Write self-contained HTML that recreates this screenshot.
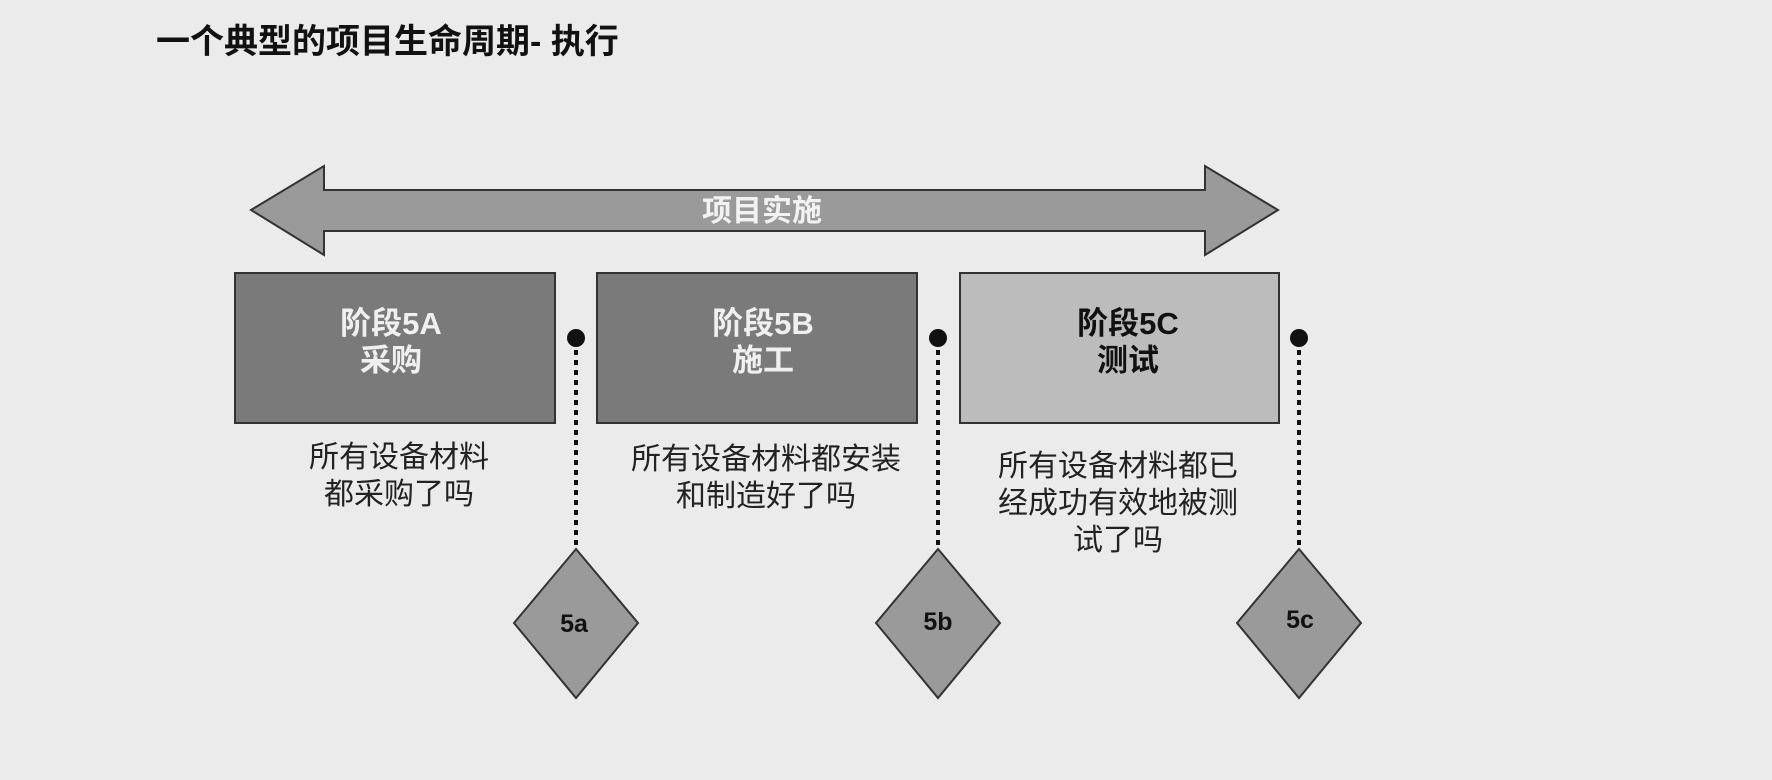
<!DOCTYPE html>
<html><head><meta charset="utf-8"><style>
html,body{margin:0;padding:0;background:#ebebeb;}
body{width:1772px;height:780px;overflow:hidden;position:relative;font-family:"Liberation Sans","Noto Sans CJK SC",sans-serif;}
.t{position:absolute;white-space:nowrap;}
</style></head><body>
<div class="t" style="left:156px;top:20px;font-size:34px;font-weight:bold;color:#111;line-height:44px;">一个典型的项目生命周期- 执行</div>
<svg width="1772" height="780" style="position:absolute;left:0;top:0">
<polygon points="251,210 324,166 324,190 1205,190 1205,166 1278,210 1205,255 1205,231 324,231 324,255" fill="#9a9a9a" stroke="#333" stroke-width="2"/>
<text x="762" y="221" text-anchor="middle" font-size="30" font-weight="bold" fill="#f2f2f2" font-family="Liberation Sans, Noto Sans CJK SC, sans-serif">项目实施</text>
<rect x="235" y="273" width="320" height="150" fill="#7a7a7a" stroke="#333" stroke-width="2"/>
<rect x="597" y="273" width="320" height="150" fill="#7a7a7a" stroke="#333" stroke-width="2"/>
<rect x="960" y="273" width="319" height="150" fill="#bcbcbc" stroke="#333" stroke-width="2"/>
<g font-family="Liberation Sans, Noto Sans CJK SC, sans-serif" font-size="31" font-weight="bold" text-anchor="middle">
<text x="391" y="334" fill="#f0f0f0">阶段5A</text><text x="391" y="371" fill="#f0f0f0">采购</text>
<text x="763" y="334" fill="#f0f0f0">阶段5B</text><text x="763" y="371" fill="#f0f0f0">施工</text>
<text x="1128" y="334" fill="#111">阶段5C</text><text x="1128" y="371" fill="#111">测试</text>
</g>
<g font-family="Liberation Sans, Noto Sans CJK SC, sans-serif" font-size="30" text-anchor="middle" fill="#222">
<text x="399" y="467">所有设备材料</text><text x="399" y="504">都采购了吗</text>
<text x="766" y="469">所有设备材料都安装</text><text x="766" y="506">和制造好了吗</text>
<text x="1118" y="476">所有设备材料都已</text><text x="1118" y="513">经成功有效地被测</text><text x="1118" y="550">试了吗</text>
</g>
<g stroke="#111" stroke-width="4" stroke-dasharray="5,5">
<line x1="576" y1="340" x2="576" y2="548"/><line x1="938" y1="340" x2="938" y2="548"/><line x1="1299" y1="340" x2="1299" y2="548"/>
</g>
<g fill="#111"><circle cx="576" cy="338" r="9"/><circle cx="938" cy="338" r="9"/><circle cx="1299" cy="338" r="9"/></g>
<g fill="#9a9a9a" stroke="#333" stroke-width="2">
<polygon points="576,549 638,623 576,698 514,623"/>
<polygon points="938,549 1000,623 938,698 876,623"/>
<polygon points="1299,549 1361,623 1299,698 1237,623"/>
</g>
<g font-family="Liberation Sans, sans-serif" font-size="25" font-weight="bold" text-anchor="middle" fill="#111">
<text x="574" y="632">5a</text><text x="938" y="630">5b</text><text x="1300" y="628">5c</text>
</g>
</svg>
</body></html>
